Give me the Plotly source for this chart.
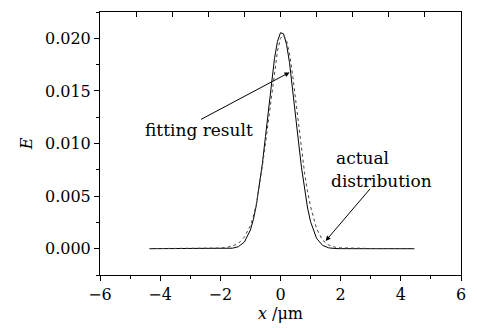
import plotly.graph_objects as go

# Solid curve ("fitting result")
x_fit = [-4.35, -3.0, -2.0, -1.8, -1.6, -1.4, -1.2, -1.0, -0.9, -0.8, -0.7, -0.6, -0.5, -0.4,
         -0.3, -0.2, -0.1, 0.0, 0.1, 0.2, 0.3, 0.4, 0.5, 0.6, 0.7, 0.8, 0.9, 1.0, 1.2, 1.4,
         1.6, 1.8, 2.0, 3.0, 4.45]
e_fit = [0.0, 0.0, 0.0000034, 0.0000097, 0.0000467, 0.00019, 0.000635, 0.00178, 0.00279,
         0.00417, 0.00597, 0.00815, 0.01065, 0.01329, 0.01586, 0.01808, 0.01971, 0.02053,
         0.02043, 0.01944, 0.01768, 0.01536, 0.01276, 0.01013, 0.00769, 0.00557, 0.00386,
         0.00256, 0.00098, 0.000313, 0.0000835, 0.0000186, 0.0000034, 0.0, 0.0]

# Dotted curve ("actual distribution")
x_act = [-4.35, -3.0, -2.5, -2.0, -1.8, -1.6, -1.4, -1.2, -1.0, -0.9, -0.8, -0.7, -0.6, -0.5,
         -0.4, -0.3, -0.2, -0.1, 0.0, 0.1, 0.2, 0.3, 0.4, 0.5, 0.6, 0.7, 0.8, 0.9, 1.0, 1.2,
         1.4, 1.6, 1.8, 2.0, 2.5, 3.0, 4.45]
e_act = [0.00001, 0.00002, 0.00003, 0.00006, 0.00012, 0.00025, 0.0005, 0.0011, 0.0022,
         0.0031, 0.0043, 0.0060, 0.0079, 0.0100, 0.0123, 0.0147, 0.0170, 0.0188, 0.0200,
         0.0203, 0.0198, 0.0185, 0.0166, 0.0143, 0.0118, 0.0094, 0.0072, 0.0054, 0.0040,
         0.0019, 0.0008, 0.00035, 0.00015, 0.00008, 0.00003, 0.00002, 0.00001]

x_ticks = [-6, -4, -2, 0, 2, 4, 6]
x_ticklabels = ["\u22126", "\u22124", "\u22122", "0", "2", "4", "6"]
y_ticks = [0.0, 0.005, 0.010, 0.015, 0.020]
y_ticklabels = ["0.000", "0.005", "0.010", "0.015", "0.020"]
top_range = [0, 10]

FONT = "DejaVu Serif"

fig = go.Figure()
fig.add_trace(go.Scatter(x=x_fit, y=e_fit, mode="lines",
                         line=dict(color="black", width=1), showlegend=False))
fig.add_trace(go.Scatter(x=x_act, y=e_act, mode="lines",
                         line=dict(color="#444444", width=1, dash="dot"), showlegend=False))
# placeholder trace (no visible points) so the top axis is drawn
fig.add_trace(go.Scatter(x=top_range, y=[None, None], xaxis="x2", yaxis="y",
                         mode="lines", showlegend=False, hoverinfo="skip"))

fig.update_layout(
    width=477, height=328,
    margin=dict(l=100, r=14, t=11, b=52),
    paper_bgcolor="white", plot_bgcolor="white",
    font=dict(family=FONT, size=16, color="black"),
    xaxis=dict(range=[-6, 6], tickvals=x_ticks, ticktext=x_ticklabels,
               ticks="outside", ticklen=5, tickwidth=1, tickcolor="black",
               minor=dict(dtick=1, tick0=0, ticks="outside", ticklen=3, tickcolor="black"),
               showline=True, linecolor="black", linewidth=1, mirror=True,
               showgrid=False, zeroline=False,
               title=dict(text="<i>x</i> /\u03bcm", font=dict(size=16), standoff=2)),
    yaxis=dict(range=[-0.0025, 0.0225], tickvals=y_ticks, ticktext=y_ticklabels,
               ticks="outside", ticklen=5, tickwidth=1, tickcolor="black",
               minor=dict(dtick=0.0025, tick0=0, ticks="outside", ticklen=3, tickcolor="black"),
               showline=True, linecolor="black", linewidth=1, mirror=True,
               showgrid=False, zeroline=False,
               title=dict(text="<i>E</i>", font=dict(size=16), standoff=8)),
    xaxis2=dict(overlaying="x", side="top", anchor="y", range=top_range, dtick=1,
                tick0=0, ticks="inside", ticklen=5, tickwidth=1, tickcolor="black",
                showticklabels=False, showgrid=False, zeroline=False,
                showline=True, linecolor="black", linewidth=1),
)

fig.add_annotation(x=-2.72, y=0.0113, xref="x", yref="y", text="fitting result",
                   showarrow=False, font=dict(family=FONT, size=17))
fig.add_annotation(x=0.30, y=0.01676, ax=-2.69, ay=0.01222, xref="x", yref="y",
                   axref="x", ayref="y", text="", showarrow=True,
                   arrowhead=2, arrowsize=1, arrowwidth=1, arrowcolor="black")
fig.add_annotation(x=1.77, y=0.0086, xref="x", yref="y", text="actual",
                   xanchor="left", showarrow=False, font=dict(family=FONT, size=17))
fig.add_annotation(x=1.60, y=0.0064, xref="x", yref="y", text="distribution",
                   xanchor="left", showarrow=False, font=dict(family=FONT, size=17))
fig.add_annotation(x=1.50, y=0.00074, ax=3.02, ay=0.00583, xref="x", yref="y",
                   axref="x", ayref="y", text="", showarrow=True,
                   arrowhead=2, arrowsize=1, arrowwidth=1, arrowcolor="black")

pin_js = (
    "document.documentElement.style.overflow='hidden';"
    "document.body.style.margin='0';document.body.style.padding='0';"
    "document.body.style.overflow='hidden';"
    "var gd=document.getElementById('{plot_id}');"
    "gd.style.position='fixed';gd.style.top='0px';gd.style.left='0px';"
    "window.scrollTo(0,0);"
)
fig.write_html("out.html", config={"displayModeBar": False}, post_script=pin_js)
